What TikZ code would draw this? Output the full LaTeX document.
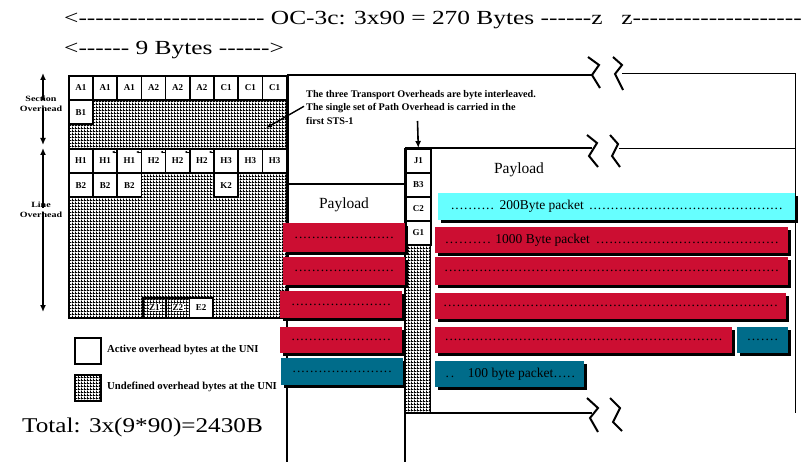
\documentclass[tikz,border=0pt]{standalone}
\usepackage{graphicx}
\usepackage{fontspec}
\setmainfont{Liberation Serif}
\usetikzlibrary{patterns,arrows.meta,shadows}
\definecolor{pktred}{RGB}{204,14,50}
\definecolor{pktteal}{RGB}{0,108,138}
\definecolor{pktcyan}{RGB}{102,255,255}
\pgfdeclarepatternformonly{hgrid}{\pgfpointorigin}{\pgfqpoint{3pt}{3pt}}{\pgfqpoint{3pt}{3pt}}{%
  \pgfpathrectangle{\pgfpointorigin}{\pgfqpoint{3pt}{1.2pt}}%
  \pgfpathrectangle{\pgfpointorigin}{\pgfqpoint{1.2pt}{3pt}}%
  \pgfusepath{fill}}
\newcommand\dd[1]{\hbox to #1pt{\xleaders\hbox to 4.3pt{\hss.\hss}\hfill}}
\newcommand\wide[2]{\scalebox{#1}[1]{#2}}
\newcommand\wbox[1]{{\setlength\fboxsep{0.6pt}\colorbox{white}{#1}}}
\newcount\hycnt
\newcommand\hys[1]{\hycnt=0 \loop\hbox{-}\advance\hycnt by 1 \ifnum\hycnt<#1\repeat}
\begin{document}
\begin{tikzpicture}[x=1pt,y=-1pt,
  cell/.style={draw=black,line width=1.6pt,fill=white,minimum width=24.2pt,minimum height=24pt,
    inner sep=0pt,anchor=north west,font=\bfseries\fontsize{9}{10}\selectfont},
  pcell/.style={cell,minimum width=25pt},
  hatch/.style={pattern=hgrid,pattern color=black},
  thickln/.style={line width=2pt},
  thinln/.style={line width=1pt},
  brk/.style={line width=2pt},
  arw/.style={line width=1.6pt,-{Latex[length=7pt,width=6pt]}},
  lbl/.style={font=\bfseries\fontsize{8}{9.5}\selectfont,align=center,inner sep=0pt},
  pkt/.style={anchor=north west,inner sep=0pt,font=\fontsize{13.5}{14}\selectfont,
    drop shadow={shadow xshift=3pt,shadow yshift=-3pt,fill=black,opacity=1}},
  big/.style={anchor=west,inner sep=0pt,font=\fontsize{20}{24}\selectfont},
  legtxt/.style={anchor=west,inner sep=0pt,font=\bfseries\fontsize{10.7}{12}\selectfont}]
\useasboundingbox (0,0) rectangle (808,462);
\fill[white] (0,0) rectangle (808,462);

% titles
\node[big] (title) at (64,20) {\wide{1.27}{<\hys{22} OC-3c: 3x90 = 270 Bytes \hys{6}z}};
\node[big,anchor=east] (title2) at (802,20) {\wide{1.27}{z\hys{20}}};
\node[big] (nine) at (64,50) {\wide{1.27}{<\hys{6} 9 Bytes \hys{6}>}};

% overhead block
\node[draw,line width=2pt,hatch,minimum width=219pt,minimum height=242pt,anchor=north west,inner sep=0pt] (oh) at (68,75) {};
\foreach \l [count=\i from 0] in {A1,A1,A1,A2,A2,A2,C1,C1,C1}
  \node[cell] (ra\i) at ({68+24.2*\i},75) {\l};
\node[cell] (rb0) at (68,99.5) {B1};
\foreach \l [count=\i from 0] in {H1,H1,H1,H2,H2,H2,H3,H3,H3}
  \node[cell] (rh\i) at ({68+24.2*\i},148) {\l};
\foreach \l [count=\i from 0] in {B2,B2,B2}
  \node[cell] (rk\i) at ({68+24.2*\i},172.5) {\l};
\node[cell] (rk6) at ({68+24.2*6},172.5) {K2};
\foreach \i in {1,...,5}
  \draw[line width=0.8pt,-{Latex[length=2.5pt,width=2.5pt]}] ([shift={(-1,4)}]rh\i.north east) -- ([shift={(-6,4)}]rh\i.north east);
\node[cell,hatch,minimum width=23.3pt,minimum height=20pt] (z1) at (142,297) {\wbox{Z1}};
\node[cell,hatch,minimum width=23.3pt,minimum height=20pt] (z2) at (165.3,297) {\wbox{Z2}};
\node[cell,minimum width=23.3pt,minimum height=20pt] (e2) at (188.6,297) {E2};

% left side labels
\node[lbl] (secl) at (41,104) {\wide{1.25}{Section}\\\wide{1.25}{Overhead}};
\coordinate (sectop) at (43,73);
\coordinate (secbot) at (43,145);
\draw[arw] ([yshift=-4]secl.north -| sectop) -- (sectop);
\draw[arw] ([yshift=4]secl.south -| secbot) -- (secbot);
\node[lbl] (linel) at (41,210) {\wide{1.25}{Line}\\\wide{1.25}{Overhead}};
\coordinate (linetop) at (43,148);
\coordinate (linebot) at (43,312);
\draw[arw] ([yshift=-6]linel.north -| linetop) -- (linetop);
\draw[arw] ([yshift=6]linel.south -| linebot) -- (linebot);

% frame lines
\draw[thickln] (287,75) -- (593,75);
\draw[thinln] (622,74) -- (795,74) -- (795,413);
\draw[thickln] (405,148) -- (592,148);
\draw[thinln] (619,149) -- (795,149);
\draw[thickln] (287,75) -- (287,462);
\draw[thickln] (287,184) -- (405,184);
\draw[thickln] (405,148) -- (405,462);
\draw[thickln] (405,413) -- (592,413);
\draw[brk] (588,57) -- (599,65) -- (592,75) -- (600,88);
\draw[brk] (613,57) -- (622,65) -- (615,74) -- (623,90);
\draw[brk] (587,135) -- (597,143) -- (589,156) -- (598,167);
\draw[brk] (610,135) -- (618,144) -- (612,156) -- (620,167);
\draw[brk] (587,398) -- (598,408) -- (590,418) -- (598,432);
\draw[brk] (610,398) -- (620,408) -- (613,422) -- (622,431);

% path overhead column
\node[pcell] (j1) at (405,148) {J1};
\node[pcell] (b3) at (405,172) {B3};
\node[pcell] (c2) at (405,196) {C2};
\node[pcell] (g1) at (405,220) {G1};
\node[draw,line width=1.2pt,hatch,minimum width=25pt,minimum height=169pt,anchor=north west,inner sep=0pt] (poh) at (405,244) {};

% payload labels
\node[font=\fontsize{15.5}{16}\selectfont] (pl1) at (344,205) {Payload};
\node[font=\fontsize{15.5}{16}\selectfont] (pl2) at (519,170) {Payload};

% note
\node[anchor=north west,align=left,inner sep=0pt,font=\bfseries\fontsize{10.2}{13.5}\selectfont] (note) at (306,90) {The three Transport Overheads are byte interleaved.\\The single set of Path Overhead is carried in the\\first STS-1};
\coordinate (notetgt) at (266,128);
\draw[line width=1.4pt,-{Latex[length=6pt,width=5pt]}] ([xshift=-2,yshift=1]note.west) -- (notetgt);
\coordinate (jtop) at (417.5,121);
\draw[arw] (jtop) -- (j1.north);

% packets left
\node[pkt,fill=pktred,minimum width=122pt,minimum height=29pt] (l1) at (283,223) {\dd{100}};
\node[pkt,fill=pktred,minimum width=122pt,minimum height=28pt] (l2) at (283,257) {\dd{100}};
\node[pkt,fill=pktred,minimum width=122pt,minimum height=27pt] (l3) at (280,291) {\dd{100}};
\node[pkt,fill=pktred,minimum width=122pt,minimum height=26pt] (l4) at (280,327) {\dd{100}};
\node[pkt,fill=pktteal,minimum width=122pt,minimum height=27pt] (l5) at (281,358) {\dd{100}};
% packets right
\node[pkt,fill=pktcyan,minimum width=357pt,minimum height=27pt] (c1) at (438,193) {\dd{44}\hspace{5pt}200Byte packet\hspace{5pt}\dd{194}};
\node[pkt,fill=pktred,minimum width=353pt,minimum height=26pt] (r1) at (435,227) {\dd{47}\hspace{4pt}1000 Byte packet\hspace{6pt}\dd{183}};
\node[pkt,fill=pktred,minimum width=353pt,minimum height=28pt] (r2) at (435,257) {\dd{335}};
\node[pkt,fill=pktred,minimum width=351pt,minimum height=26pt] (r3) at (435,293) {\dd{335}};
\node[pkt,fill=pktred,minimum width=297pt,minimum height=26pt] (r4) at (435,327) {\dd{278}};
\node[pkt,fill=pktteal,minimum width=51pt,minimum height=26pt] (t1) at (737,327) {\dd{32}};
\node[pkt,fill=pktteal,minimum width=149pt,minimum height=26pt] (t2) at (435,361) {\dd{12}\hspace{12pt}100 byte packet\dd{22}};

% legend
\node[draw,line width=1.5pt,fill=white,minimum size=26pt,anchor=north west,inner sep=0pt] (lg1) at (74,337) {};
\node[legtxt] (lg1t) at (107,350) {Active overhead bytes at the UNI};
\node[draw,line width=1.5pt,hatch,minimum size=26pt,anchor=north west,inner sep=0pt] (lg2) at (74,374) {};
\node[legtxt] (lg2t) at (107,387) {Undefined overhead bytes at the UNI};

\node[big,font=\fontsize{21}{24}\selectfont] (total) at (22,427) {\wide{1.2}{Total: 3x(9*90)=2430B}};
\end{tikzpicture}
\end{document}
